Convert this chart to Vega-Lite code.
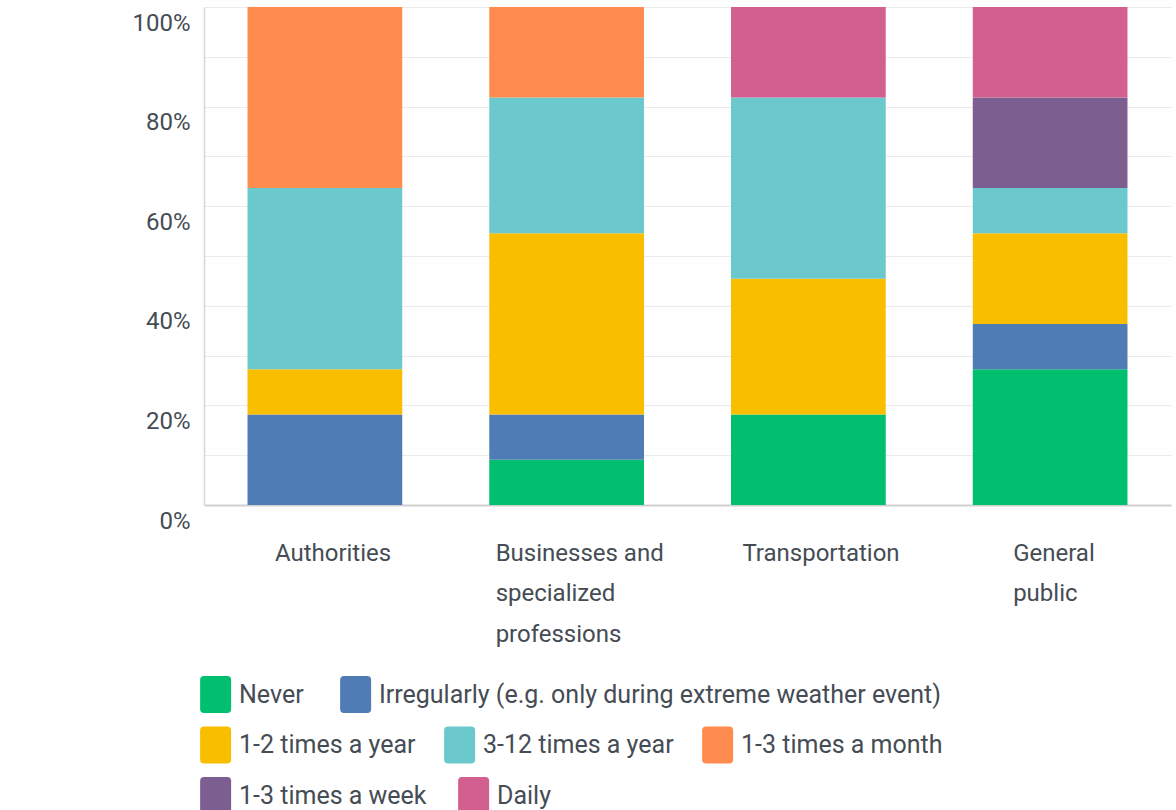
{
  "$schema": "https://vega.github.io/schema/vega-lite/v6.json",
  "width": 967,
  "height": 498,
  "padding": {"left": 131, "top": 7, "right": 5, "bottom": 0},
  "background": "white",
  "data": {
    "values": [
      {"group": "Authorities", "frequency": "Irregularly (e.g. only during extreme weather event)", "order": 2, "pct": 18.18},
      {"group": "Authorities", "frequency": "1-2 times a year", "order": 3, "pct": 9.09},
      {"group": "Authorities", "frequency": "3-12 times a year", "order": 4, "pct": 36.36},
      {"group": "Authorities", "frequency": "1-3 times a month", "order": 5, "pct": 36.36},
      {"group": "Businesses and specialized professions", "frequency": "Never", "order": 1, "pct": 9.09},
      {"group": "Businesses and specialized professions", "frequency": "Irregularly (e.g. only during extreme weather event)", "order": 2, "pct": 9.09},
      {"group": "Businesses and specialized professions", "frequency": "1-2 times a year", "order": 3, "pct": 36.36},
      {"group": "Businesses and specialized professions", "frequency": "3-12 times a year", "order": 4, "pct": 27.27},
      {"group": "Businesses and specialized professions", "frequency": "1-3 times a month", "order": 5, "pct": 18.18},
      {"group": "Transportation", "frequency": "Never", "order": 1, "pct": 18.18},
      {"group": "Transportation", "frequency": "1-2 times a year", "order": 3, "pct": 27.27},
      {"group": "Transportation", "frequency": "3-12 times a year", "order": 4, "pct": 36.36},
      {"group": "Transportation", "frequency": "Daily", "order": 7, "pct": 18.18},
      {"group": "General public", "frequency": "Never", "order": 1, "pct": 27.27},
      {"group": "General public", "frequency": "Irregularly (e.g. only during extreme weather event)", "order": 2, "pct": 9.09},
      {"group": "General public", "frequency": "1-2 times a year", "order": 3, "pct": 18.18},
      {"group": "General public", "frequency": "3-12 times a year", "order": 4, "pct": 9.09},
      {"group": "General public", "frequency": "1-3 times a week", "order": 6, "pct": 18.18},
      {"group": "General public", "frequency": "Daily", "order": 7, "pct": 18.18}
    ]
  },
  "transform": [
    {"stack": "pct", "groupby": ["group"], "sort": [{"field": "order", "order": "ascending"}], "offset": "normalize", "as": ["y0", "y1"]}
  ],
  "encoding": {
    "x": {
      "field": "group",
      "type": "nominal",
      "sort": ["Authorities", "Businesses and specialized professions", "Transportation", "General public"],
      "scale": {"paddingInner": 0.36, "paddingOuter": 0.18},
      "axis": {
        "title": null,
        "labelAngle": 0,
        "ticks": false,
        "domainColor": "#cfcfcf",
        "domainWidth": 2,
        "labelAlign": "left",
        "labelBaseline": "top",
        "labelPadding": 36,
        "labelLineHeight": 40.5,
        "labelLimit": 0,
        "labelExpr": "datum.value === 'Businesses and specialized professions' ? ['Businesses and', 'specialized', 'professions'] : datum.value === 'General public' ? ['General', 'public'] : datum.label",
        "labelOffset": {
          "condition": [
            {"test": "datum.value === 'Authorities'", "value": -50},
            {"test": "datum.value === 'Businesses and specialized professions'", "value": -71},
            {"test": "datum.value === 'Transportation'", "value": -66}
          ],
          "value": -37
        }
      }
    },
    "y": {
      "field": "y0",
      "type": "quantitative",
      "scale": {"domain": [0, 1]},
      "axis": {
        "title": null,
        "values": [0, 0.1, 0.2, 0.3, 0.4, 0.5, 0.6, 0.7, 0.8, 0.9, 1],
        "format": ".0%",
        "labelExpr": "round(datum.value * 100) % 20 === 0 ? datum.label : ''",
        "labelOverlap": false,
        "ticks": false,
        "labelPadding": 14,
        "labelOffset": 16,
        "gridColor": "#ebebeb",
        "gridWidth": 1.2,
        "domainColor": "#d6d6d6",
        "domainWidth": 1.5
      }
    },
    "y2": {"field": "y1"}
  },
  "layer": [
    {
      "transform": [{"filter": "datum.order <= 2"}],
      "mark": {"type": "bar"},
      "encoding": {
        "color": {
          "field": "frequency",
          "type": "nominal",
          "scale": {"domain": ["Never", "Irregularly (e.g. only during extreme weather event)"], "range": ["#00bf6f", "#507cb6"]},
          "legend": {"title": null, "columnPadding": 36}
        }
      }
    },
    {
      "transform": [{"filter": "datum.order >= 3 && datum.order <= 5"}],
      "mark": {"type": "bar"},
      "encoding": {
        "color": {
          "field": "frequency",
          "type": "nominal",
          "scale": {"domain": ["1-2 times a year", "3-12 times a year", "1-3 times a month"], "range": ["#f9be00", "#6bc8cd", "#ff8b4f"]},
          "legend": {"title": null, "columnPadding": 28}
        }
      }
    },
    {
      "transform": [{"filter": "datum.order >= 6"}],
      "mark": {"type": "bar"},
      "encoding": {
        "color": {
          "field": "frequency",
          "type": "nominal",
          "scale": {"domain": ["1-3 times a week", "Daily"], "range": ["#7d5e90", "#d25f90"]},
          "legend": {"title": null, "columnPadding": 31}
        }
      }
    }
  ],
  "resolve": {"scale": {"color": "independent"}},
  "config": {
    "view": {"stroke": null},
    "font": "Roboto",
    "axis": {
      "labelFont": "Roboto",
      "labelFontSize": 24,
      "labelColor": "#454c54"
    },
    "legend": {
      "orient": "bottom",
      "direction": "horizontal",
      "offset": 33,
      "padding": 0,
      "labelFont": "Roboto",
      "labelFontSize": 25,
      "labelColor": "#454c54",
      "labelLimit": 0,
      "labelOffset": 4,
      "columnPadding": 31,
      "symbolType": "M-1,-1.19H0.5Q0.75,-1.19 0.75,-0.94V0.94Q0.75,1.19 0.5,1.19H-1Q-1.25,1.19 -1.25,0.94V-0.94Q-1.25,-1.19 -1,-1.19Z",
      "symbolSize": 961,
      "symbolStrokeWidth": 0,
      "symbolOpacity": 1,
      "layout": {"bottom": {"anchor": "start", "direction": "vertical", "margin": 16.5}}
    }
  }
}
